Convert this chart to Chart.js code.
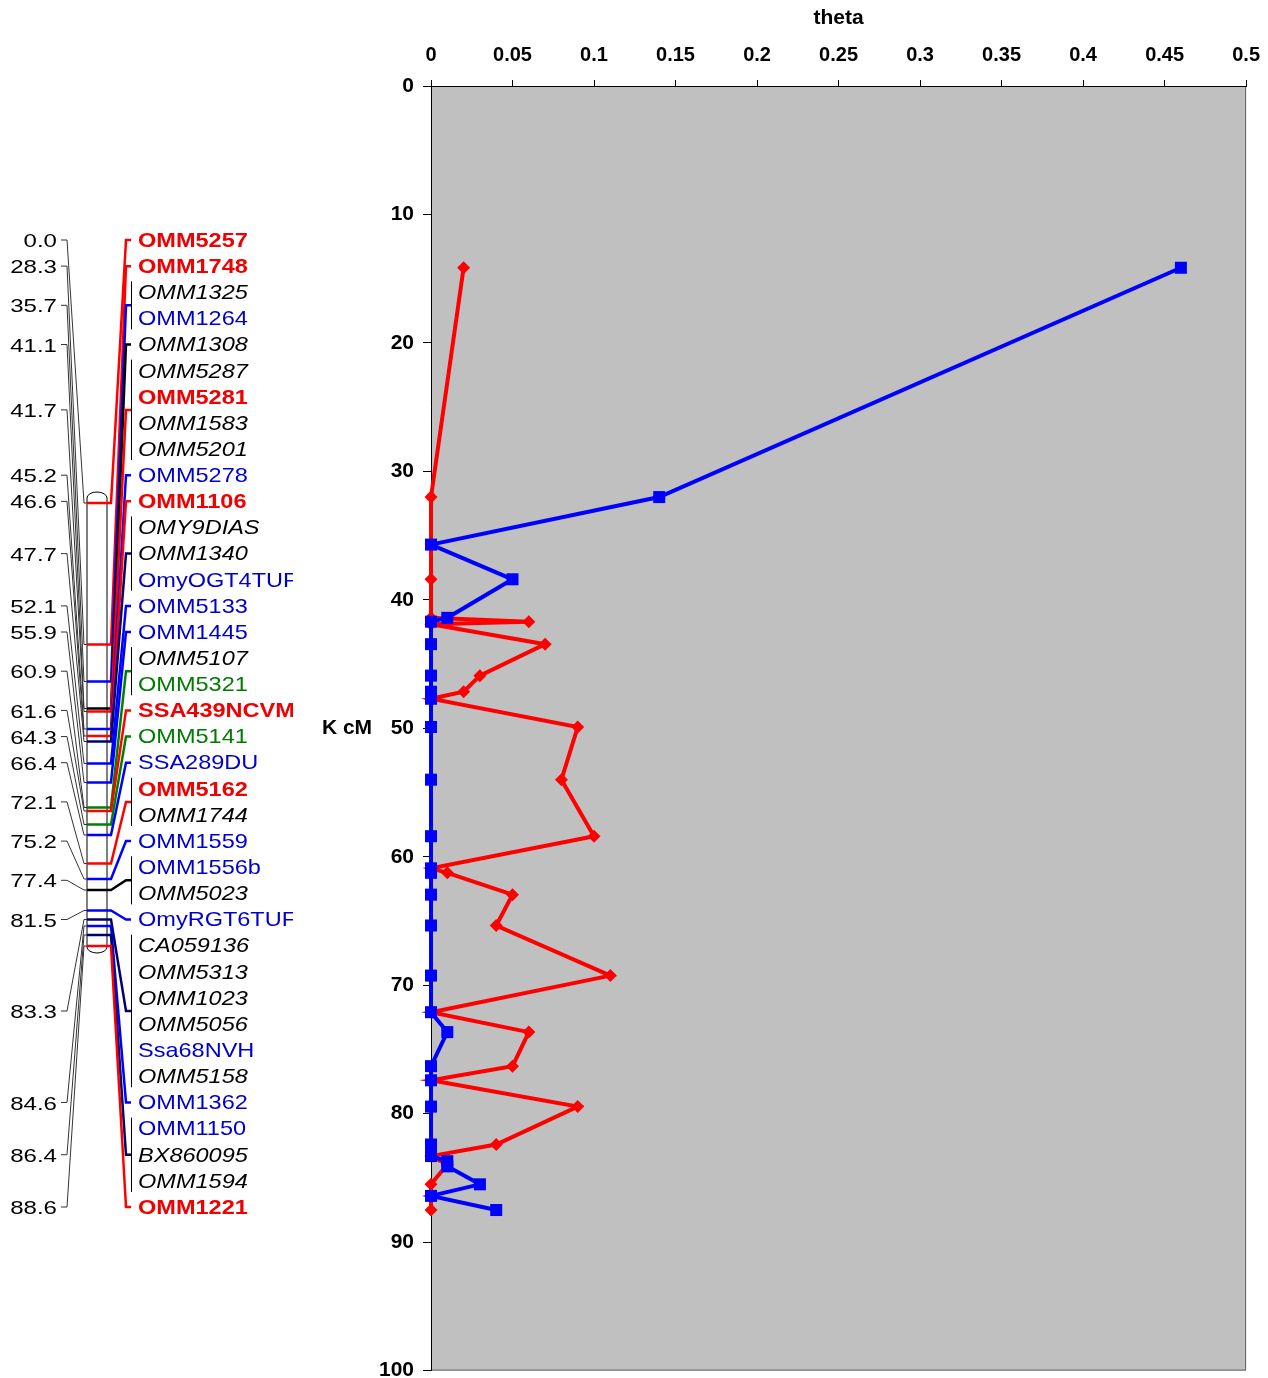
<!DOCTYPE html>
<html>
<head>
<meta charset="utf-8">
<script src="https://cdn.jsdelivr.net/npm/chart.js@4.4.1/dist/chart.umd.min.js"></script>
<style>
  html, body { margin: 0; padding: 0; background: #fff; overflow: hidden; }
  #wrap { position: relative; width: 1268px; height: 1378px; overflow: hidden; }
  canvas { position: absolute; left: 0; top: 0; }
</style>
</head>
<body>
<div id="wrap">
  <canvas id="plot" width="1273" height="1388"></canvas>
  <canvas id="map" width="310" height="1378"></canvas>
</div>
<script>
// ---- linkage map data ----
const mapPositions = [0.0, 28.3, 35.7, 41.1, 41.7, 45.2, 46.6, 47.7, 52.1, 55.9, 60.9,
                      61.6, 64.3, 66.4, 72.1, 75.2, 77.4, 81.5, 83.3, 84.6, 86.4, 88.6];
// colour of the connector drawn for each map position
const positionColour = ['r', 'r', 'b', 'k', 'r', 'b', 'r', 'n', 'b', 'b', 'g',
                        'r', 'g', 'b', 'r', 'b', 'k', 'b', 'n', 'b', 'n', 'r'];

const markers = ['OMM5257', 'OMM1748', 'OMM1325', 'OMM1264', 'OMM1308', 'OMM5287', 'OMM5281',
  'OMM1583', 'OMM5201', 'OMM5278', 'OMM1106', 'OMY9DIAS', 'OMM1340', 'OmyOGT4TUF', 'OMM5133',
  'OMM1445', 'OMM5107', 'OMM5321', 'SSA439NCVM', 'OMM5141', 'SSA289DU', 'OMM5162', 'OMM1744',
  'OMM1559', 'OMM1556b', 'OMM5023', 'OmyRGT6TUF', 'CA059136', 'OMM5313', 'OMM1023', 'OMM5056',
  'Ssa68NVH', 'OMM5158', 'OMM1362', 'OMM1150', 'BX860095', 'OMM1594', 'OMM1221'];
const markerPos = [0.0, 28.3, 35.7, 35.7, 41.1, 41.7, 41.7, 41.7, 41.7, 45.2, 46.6, 47.7, 47.7,
  47.7, 52.1, 55.9, 60.9, 60.9, 61.6, 64.3, 66.4, 72.1, 72.1, 75.2, 77.4, 77.4, 81.5, 83.3, 83.3,
  83.3, 83.3, 83.3, 83.3, 84.6, 86.4, 86.4, 86.4, 88.6];
const markerType = ['r', 'r', 'k', 'b', 'k', 'k', 'r', 'k', 'k', 'b', 'r', 'k', 'k', 'b', 'b',
  'b', 'k', 'g', 'r', 'g', 'b', 'r', 'k', 'b', 'b', 'k', 'b', 'k', 'k', 'k', 'k', 'b', 'k', 'b',
  'b', 'k', 'k', 'r'];

// ---- theta plot data ----
const redKcM = [14.15, 32.0, 38.4, 41.4, 41.7, 41.9, 43.45, 45.9, 47.15, 47.7, 49.9, 54.0, 58.4,
  60.9, 61.25, 62.95, 65.35, 69.25, 72.1, 73.65, 76.3, 77.4, 79.45, 82.4, 83.3, 83.95, 85.5, 87.5];
const redTheta = [0.02, 0, 0, 0, 0.06, 0, 0.07, 0.03, 0.02, 0, 0.09, 0.08, 0.10,
  0, 0.01, 0.05, 0.04, 0.11, 0, 0.06, 0.05, 0, 0.09, 0.04, 0, 0.01, 0, 0];

const blueKcM = [14.15, 32.0, 35.7, 38.4, 41.4, 41.7, 43.45, 45.9, 47.15, 47.7, 49.9, 54.0, 58.4,
  60.9, 61.25, 62.95, 65.35, 69.25, 72.1, 73.65, 76.3, 77.4, 79.45, 82.4, 83.3, 83.7, 84.1, 85.5,
  86.4, 87.5];
const blueTheta = [0.46, 0.14, 0, 0.05, 0.01, 0, 0, 0, 0, 0, 0, 0, 0,
  0, 0, 0, 0, 0, 0, 0.01, 0, 0, 0, 0, 0, 0.01, 0.01, 0.03, 0, 0.04];

const thetaTickLabels = ['0', '0.05', '0.1', '0.15', '0.2', '0.25', '0.3', '0.35', '0.4', '0.45', '0.5'];
const kcmTicks = [0, 10, 20, 30, 40, 50, 60, 70, 80, 90, 100];
const kcmTickLabels = ['0', '10', '20', '30', '40', '50', '60', '70', '80', '90', '100'];

const FAMILY = '"Liberation Sans", Arial, sans-serif';
Chart.defaults.font.family = FAMILY;
Chart.defaults.color = '#000';

const lineColours = { r: '#FF0000', b: '#0000FF', g: '#008000', k: '#000000', n: '#000070' };
const textColours = { r: '#F00000', b: '#0000CC', g: '#007A00', k: '#000000' };
const textFonts = {
  r: 'bold 21px ' + FAMILY,
  k: 'italic 21px ' + FAMILY,
  b: '21px ' + FAMILY,
  g: '21px ' + FAMILY
};

function wideText(ctx, txt, x, y, stretch, align) {
  ctx.save();
  ctx.translate(x, y);
  ctx.scale(stretch, 1);
  ctx.textAlign = align;
  ctx.textBaseline = 'middle';
  ctx.fillText(txt, 0, 0);
  ctx.restore();
}

const linkageMap = {
  id: 'linkageMap',
  afterDraw(chart) {
    const ctx = chart.ctx;
    const X = v => chart.scales.x.getPixelForValue(v);
    const R = v => chart.scales.row.getPixelForValue(v);
    const C = v => chart.scales.cm.getPixelForValue(v);
    const bl = X(87), br = X(107);

    ctx.save();
    ctx.beginPath();
    ctx.rect(0, 0, X(293), chart.height);
    ctx.clip();

    // chromosome bar
    const top = C(-1), bot = C(88.8);
    ctx.fillStyle = '#fff';
    ctx.strokeStyle = '#000';
    ctx.lineWidth = 1;
    ctx.beginPath();
    ctx.moveTo(bl, bot);
    ctx.lineTo(bl, top);
    ctx.ellipse((bl + br) / 2, top, (br - bl) / 2, 6, 0, Math.PI, 0);
    ctx.lineTo(br, bot);
    ctx.ellipse((bl + br) / 2, bot, (br - bl) / 2, 6, 0, 0, Math.PI);
    ctx.closePath();
    ctx.fill();
    ctx.stroke();

    mapPositions.forEach((p, k) => {
      const rows = markerPos.map((mp, i) => mp === p ? i : -1).filter(i => i >= 0);
      const first = rows[0], last = rows[rows.length - 1];
      const ly = R((first + last) / 2);
      const by = C(p);
      const col = lineColours[positionColour[k]];

      // left fan line to the position label
      ctx.strokeStyle = '#333';
      ctx.lineWidth = 1;
      ctx.beginPath();
      ctx.moveTo(X(61), ly);
      ctx.lineTo(X(67), ly);
      ctx.lineTo(X(84), by);
      ctx.lineTo(bl, by);
      ctx.stroke();

      ctx.fillStyle = '#000';
      ctx.font = '18.5px ' + FAMILY;
      wideText(ctx, p.toFixed(1), X(57), ly + 2, 1.3, 'right');

      // mark on the bar and right fan line
      ctx.strokeStyle = col;
      ctx.lineWidth = 2.5;
      ctx.beginPath();
      ctx.moveTo(bl, by);
      ctx.lineTo(X(111), by);
      ctx.lineTo(X(126), ly);
      ctx.lineTo(X(131), ly);
      ctx.stroke();

      if (rows.length > 1) {
        ctx.strokeStyle = '#000';
        ctx.lineWidth = 1;
        ctx.beginPath();
        ctx.moveTo(X(131.5), R(first) - 11);
        ctx.lineTo(X(131.5), R(last) + 11);
        ctx.stroke();
      }
    });

    // marker names
    markers.forEach((m, i) => {
      const t = markerType[i];
      ctx.fillStyle = textColours[t];
      ctx.font = textFonts[t];
      wideText(ctx, m, X(138), R(i) + 1, 1.12, 'left');
    });
    ctx.restore();
  }
};

new Chart(document.getElementById('map'), {
  type: 'scatter',
  data: { datasets: [] },
  options: {
    responsive: false,
    animation: false,
    events: [],
    layout: { padding: { top: 240, bottom: 171, left: 0, right: 0 } },
    plugins: { legend: { display: false }, tooltip: { enabled: false } },
    scales: {
      x: { type: 'linear', min: 0, max: 310, display: false },
      y: { type: 'linear', display: false },
      row: { type: 'linear', axis: 'y', min: 0, max: markers.length - 1, reverse: true, display: false },
      cm: { type: 'linear', axis: 'y', min: -52.6, max: 140.8, reverse: true, display: false }
    }
  },
  plugins: [linkageMap]
});

const plotBack = {
  id: 'plotBack',
  beforeDraw(chart) {
    const { ctx, chartArea: a } = chart;
    ctx.save();
    ctx.fillStyle = '#C0C0C0';
    ctx.fillRect(a.left, a.top, a.right - a.left, a.bottom - a.top);
    ctx.strokeStyle = '#606060';
    ctx.lineWidth = 1;
    ctx.strokeRect(a.left + 0.5, a.top + 0.5, a.right - a.left - 1, a.bottom - a.top - 1);
    ctx.restore();
  },
  afterDraw(chart) {
    const { ctx, chartArea: a } = chart;
    ctx.save();
    ctx.fillStyle = '#000';
    ctx.font = 'bold 21px ' + FAMILY;
    ctx.textAlign = 'center';
    ctx.textBaseline = 'middle';
    ctx.fillText('K cM', a.left - 84, (a.top + a.bottom) / 2);
    ctx.restore();
  }
};

new Chart(document.getElementById('plot'), {
  type: 'scatter',
  data: {
    datasets: [
      {
        label: 'blue',
        data: blueKcM.map((y, i) => ({ x: blueTheta[i], y })),
        showLine: true,
        borderColor: '#0000FF',
        backgroundColor: '#0000FF',
        borderWidth: 4,
        pointStyle: 'rect',
        pointRadius: 8.5,
        pointBorderWidth: 0,
        clip: false
      },
      {
        label: 'red',
        data: redKcM.map((y, i) => ({ x: redTheta[i], y })),
        showLine: true,
        borderColor: '#FF0000',
        backgroundColor: '#FF0000',
        borderWidth: 4,
        pointStyle: 'rectRot',
        pointRadius: 6.5,
        pointBorderWidth: 0,
        clip: false
      }
    ]
  },
  options: {
    responsive: false,
    animation: false,
    events: [],
    layout: { padding: { left: 0, right: 23, top: 0, bottom: 9 } },
    plugins: { legend: { display: false }, tooltip: { enabled: false } },
    scales: {
      x: {
        type: 'linear',
        position: 'top',
        min: 0,
        max: 0.5,
        ticks: {
          stepSize: 0.05,
          padding: 13,
          font: { size: 20, weight: 'bold' },
          callback: (v, i) => thetaTickLabels[i]
        },
        grid: { drawOnChartArea: false, tickLength: 6, color: '#000' },
        border: { color: '#000' },
        title: {
          display: true,
          text: 'theta',
          font: { size: 21, weight: 'bold' },
          padding: { top: 6, bottom: 0 }
        },
        afterFit: s => { s.height = 86; }
      },
      y: {
        type: 'linear',
        reverse: true,
        min: 0,
        max: 100,
        ticks: {
          stepSize: 10,
          padding: 9,
          font: { size: 21, weight: 'bold', lineHeight: 0.8 },
          callback: v => kcmTickLabels[kcmTicks.indexOf(v)]
        },
        grid: { drawOnChartArea: false, tickLength: 8, color: '#000' },
        border: { color: '#000' },
        afterFit: s => { s.width = 431; }
      }
    }
  },
  plugins: [plotBack]
});
</script>
</body>
</html>
